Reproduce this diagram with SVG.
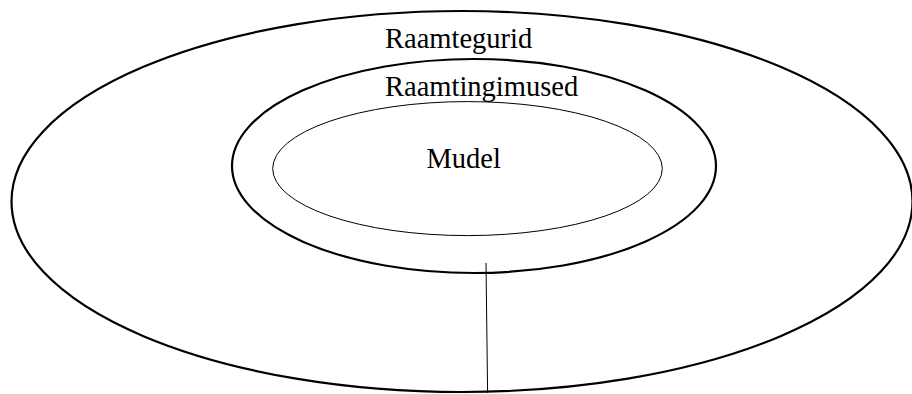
<svg xmlns="http://www.w3.org/2000/svg" width="912" height="394" viewBox="0 0 912 394">
<style>
.thick{fill:none;stroke:#000;stroke-width:2.2}
.thin{fill:none;stroke:#000;stroke-width:1}
text{font-family:"Liberation Serif","Times New Roman",serif;font-size:28.5px;fill:#000}
</style>
<rect width="912" height="394" fill="#fff"/>
<g id="raamtegurid">
<ellipse class="thick" cx="462" cy="201.5" rx="450.5" ry="190.5"/>
<text x="385" y="48">Raamtegurid</text>
</g>
<g id="raamtingimused">
<ellipse class="thick" cx="474" cy="166" rx="242" ry="107"/>
<text x="385" y="96">Raamtingimused</text>
</g>
<g id="mudel">
<ellipse class="thin" cx="467.5" cy="168.6" rx="194.8" ry="67"/>
<text x="426.5" y="167.5">Mudel</text>
</g>
<g id="connectors">
<line class="thin" x1="486" y1="263" x2="487.6" y2="393"/>
</g>
</svg>
